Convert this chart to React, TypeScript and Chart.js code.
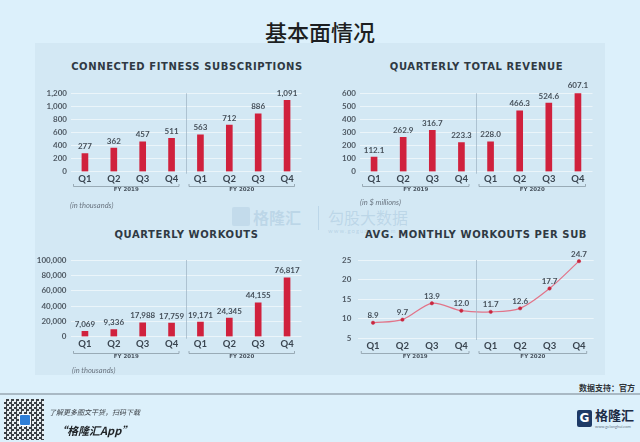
import React, { useEffect, useRef } from "react";
import { Chart, registerables } from "chart.js";

Chart.register(...registerables);

// ---------- data ----------
const quarters = ["Q1", "Q2", "Q3", "Q4", "Q1", "Q2", "Q3", "Q4"];
const fiscalYears = ["FY 2019", "FY 2020"];
const subscriptions = [277, 362, 457, 511, 563, 712, 886, 1091];
const revenue = [112.1, 262.9, 316.7, 223.3, 228.0, 466.3, 524.6, 607.1];
const workouts = [7069, 9336, 17988, 17759, 19171, 24345, 44155, 76817];
const avgWorkouts = [8.9, 9.7, 13.9, 12.0, 11.7, 12.6, 17.7, 24.7];

const subscriptionsAxis = { min: 0, max: 1200, step: 200 };
const revenueAxis = { min: 0, max: 600, step: 100 };
const workoutsAxis = { min: 0, max: 100000, step: 20000 };
const avgAxis = { min: 5, max: 25, step: 5 };

const fmtInt = (v: number) => v.toLocaleString("en-US");
const fmtOne = (v: number) => v.toFixed(1);

// ---------- styles ----------
const BAR_RED = "#d0213d";
const LINE_PINK = "#e27489";
const POINT_RED = "#c9273f";
const TEXT_DARK = "#2f3943";
const TICK_GREY = "#4f5963";
const GRID = "rgba(255,255,255,0.55)";
const SEP = "rgba(160,182,198,0.75)";

const decorPlugin = {
  id: "decor",
  afterDatasetsDraw(chart: any, _args: any, opts: any) {
    const { ctx, chartArea, scales } = chart;
    const x = scales.x;
    ctx.save();
    // separator between fiscal years
    const sx = Math.round((x.getPixelForValue(3) + x.getPixelForValue(4)) / 2) + 0.5;
    ctx.strokeStyle = SEP;
    ctx.lineWidth = 1;
    ctx.beginPath();
    ctx.moveTo(sx, chartArea.top);
    ctx.lineTo(sx, chartArea.bottom + 2);
    ctx.stroke();

    // value labels
    const meta = chart.getDatasetMeta(0);
    const vals = chart.data.datasets[0].data;
    ctx.font = "bold 8px Lato";
    ctx.fillStyle = "#46505a";
    ctx.textAlign = "center";
    ctx.textBaseline = "bottom";
    meta.data.forEach((el: any, i: number) => {
      ctx.fillText(opts.format(vals[i]), el.x, el.y - opts.gap);
    });

    // fiscal year brackets
    const half = (x.getPixelForValue(1) - x.getPixelForValue(0)) / 2;
    ctx.strokeStyle = "#8a9aa6";
    ctx.lineWidth = 0.8;
    ctx.font = "bold 5.5px 'DejaVu Sans'";
    ctx.fillStyle = "#4a5560";
    ctx.textBaseline = "middle";
    fiscalYears.forEach((fy, g) => {
      const x1 = x.getPixelForValue(g * 4) - half + 3;
      const x2 = x.getPixelForValue(g * 4 + 3) + half - 7;
      const y = Math.round(chartArea.bottom + opts.bracket) + 0.5;
      ctx.beginPath();
      ctx.moveTo(x1, y - 2.5);
      ctx.lineTo(x1, y);
      ctx.lineTo(x2, y);
      ctx.lineTo(x2, y - 2.5);
      ctx.stroke();
      ctx.fillText(fy, (x1 + x2) / 2, y + 3.5);
    });
    ctx.restore();
  },
};

type Geom = {
  L: number; T: number; W: number; H: number;
  pl: number; pr: number; pt: number; pb: number;
  xh: number; bracket: number; tickPad: number;
};

function makeConfig(kind: "bar" | "line", values: number[], axis: any, g: Geom, format: (v: number) => string, gap: number): any {
  const dataset: any =
    kind === "bar"
      ? { data: values, backgroundColor: BAR_RED, barThickness: 6 }
      : {
          data: values,
          borderColor: LINE_PINK,
          borderWidth: 1.2,
          pointBackgroundColor: POINT_RED,
          pointBorderColor: POINT_RED,
          pointRadius: 1.7,
          pointBorderWidth: 0.5,
          tension: 0.3,
          clip: false,
        };
  return {
    type: kind,
    data: { labels: quarters, datasets: [dataset] },
    plugins: [decorPlugin],
    options: {
      responsive: false,
      maintainAspectRatio: false,
      animation: false,
      events: [],
      layout: {
        padding: {
          left: 0,
          top: g.pt - g.T,
          right: g.L + g.W - g.pr,
          bottom: g.H - (g.pb - g.T) - g.xh,
        },
      },
      plugins: {
        legend: { display: false },
        tooltip: { enabled: false },
        title: { display: false },
        decor: { format, gap, bracket: g.bracket },
      },
      scales: {
        x: {
          offset: true,
          grid: { display: false, drawTicks: false },
          border: { display: false },
          ticks: {
            color: "#3a4550",
            font: { family: "Lato", size: 9.5, weight: "bold" },
            padding: 2,
            maxRotation: 0,
            autoSkip: false,
          },
          afterFit: (s: any) => {
            s.height = g.xh;
          },
        },
        y: {
          min: axis.min,
          max: axis.max,
          grid: { color: GRID, lineWidth: 1, drawTicks: false },
          border: { display: false },
          ticks: {
            stepSize: axis.step,
            color: TICK_GREY,
            font: { family: "Lato", size: 8, weight: "bold" },
            padding: g.tickPad,
          },
          afterFit: (s: any) => {
            s.width = g.pl - g.L;
          },
        },
      },
    },
  };
}

function ChartBox({ g, config }: { g: Geom; config: any }) {
  const ref = useRef<HTMLCanvasElement | null>(null);
  useEffect(() => {
    if (!ref.current) return;
    const c = new Chart(ref.current, config);
    return () => c.destroy();
  }, []);
  return (
    <canvas
      ref={ref}
      width={g.W}
      height={g.H}
      style={{ position: "absolute", left: g.L, top: g.T, width: g.W, height: g.H }}
    />
  );
}

const gSubs: Geom = { L: 30, T: 78, W: 285, H: 140, pl: 70.5, pr: 301.5, pt: 93.3, pb: 171.7, xh: 22, bracket: 14.5, tickPad: 3.5 };
const gRev: Geom = { L: 315, T: 78, W: 290, H: 140, pl: 359.5, pr: 592.5, pt: 93.3, pb: 171.7, xh: 22, bracket: 14.5, tickPad: 3.5 };
const gWork: Geom = { L: 15, T: 246, W: 300, H: 125, pl: 70.5, pr: 301.5, pt: 260, pb: 336.7, xh: 24, bracket: 16.3, tickPad: 4 };
const gAvg: Geom = { L: 315, T: 246, W: 290, H: 125, pl: 358.3, pr: 593.7, pt: 260, pb: 338, xh: 24, bracket: 15, tickPad: 7 };

const cfgSubs = makeConfig("bar", subscriptions, subscriptionsAxis, gSubs, fmtInt, 3);
const cfgRev = makeConfig("bar", revenue, revenueAxis, gRev, fmtOne, 3);
const cfgWork = makeConfig("bar", workouts, workoutsAxis, gWork, fmtInt, 3);
const cfgAvg = makeConfig("line", avgWorkouts, avgAxis, gAvg, fmtOne, 3);

const abs = (s: any): any => ({ position: "absolute", whiteSpace: "nowrap", ...s });

function ChartTitle({ text, cx, cy }: { text: string; cx: number; cy: number }) {
  return (
    <div
      style={abs({
        left: cx - 150,
        top: cy - 7,
        width: 300,
        height: 14,
        lineHeight: "14px",
        textAlign: "center",
        fontFamily: "'DejaVu Sans'",
        fontWeight: "bold",
        fontSize: 10,
        letterSpacing: "0.6px",
        color: TEXT_DARK,
      })}
    >
      {text}
    </div>
  );
}

function Note({ text, x, cy }: { text: string; x: number; cy: number }) {
  return (
    <div
      style={abs({
        left: x,
        top: cy - 5,
        height: 10,
        lineHeight: "10px",
        fontFamily: "Lato",
        fontStyle: "italic",
        fontSize: 7.5,
        color: "#6a7580",
      })}
    >
      {text}
    </div>
  );
}

export default function App() {
  return (
    <div
      style={{
        position: "fixed",
        left: 0,
        top: 0,
        width: 640,
        height: 442,
        overflow: "hidden",
        background: "#dcf0fb",
      }}
    >
      {/* page title */}
      <div
        style={abs({
          left: 0,
          width: 640,
          top: 17,
          height: 28,
          lineHeight: "28px",
          textAlign: "center",
          fontFamily: "'Noto Sans CJK SC'",
          fontWeight: 500,
          fontSize: 22,
          color: "#1d1f22",
        })}
      >
        基本面情况
      </div>

      {/* panel */}
      <div style={abs({ left: 35, top: 43, width: 570, height: 332, background: "#d3e8f4" })} />

      {/* watermark */}
      <div style={abs({ left: 232, top: 207, width: 18, height: 19, background: "rgba(120,160,195,0.18)", borderRadius: 2 })} />
      <div style={abs({ left: 253, top: 207, fontFamily: "'Noto Sans CJK SC'", fontSize: 16, lineHeight: "20px", fontWeight: 700, color: "rgba(120,160,195,0.25)" })}>格隆汇</div>
      <div style={abs({ left: 318, top: 206, width: 1, height: 24, background: "rgba(120,160,195,0.25)" })} />
      <div style={abs({ left: 328, top: 207, fontFamily: "'Noto Sans CJK SC'", fontSize: 16, lineHeight: "20px", color: "rgba(120,160,195,0.25)" })}>勾股大数据</div>
      <div style={abs({ left: 328, top: 227, fontFamily: "Lato", fontSize: 6, lineHeight: "8px", letterSpacing: "1px", color: "rgba(120,160,195,0.3)" })}>www.gogudata.com</div>

      <ChartTitle text="CONNECTED FITNESS SUBSCRIPTIONS" cx={187} cy={67} />
      <ChartTitle text="QUARTERLY TOTAL REVENUE" cx={476.5} cy={67} />
      <ChartTitle text="QUARTERLY WORKOUTS" cx={186.5} cy={235} />
      <ChartTitle text="AVG. MONTHLY WORKOUTS PER SUB" cx={476} cy={235} />

      <ChartBox g={gSubs} config={cfgSubs} />
      <ChartBox g={gRev} config={cfgRev} />
      <ChartBox g={gWork} config={cfgWork} />
      <ChartBox g={gAvg} config={cfgAvg} />

      <Note text="(in thousands)" x={70} cy={206} />
      <Note text="(in $ millions)" x={360} cy={203} />
      <Note text="(in thousands)" x={72} cy={371} />

      {/* footer */}
      <div style={abs({ right: 5, top: 382, fontFamily: "'Noto Sans CJK SC'", fontWeight: 700, fontSize: 8, lineHeight: "12px", color: "#2e3338" })}>
        数据支持：官方
      </div>
      <div style={abs({ left: 0, top: 393, width: 640, height: 2, background: "#a9b9c4" })} />

      <div
        style={abs({
          left: 4,
          top: 399,
          width: 40,
          height: 41,
          background: "repeating-conic-gradient(#3a3f44 0 25%, #e8eef2 0 50%) 0 0/5px 5px",
        })}
      />
      <div style={abs({ left: 19, top: 414, width: 10, height: 10, background: "#2f7fd8", borderRadius: 2, border: "1px solid #fff" })} />
      <div style={abs({ left: 49, top: 407, fontFamily: "'Noto Sans CJK SC'", fontStyle: "italic", fontSize: 7, lineHeight: "10px", color: "#3a3f45" })}>
        了解更多图文干货，扫码下载
      </div>
      <div style={abs({ left: 56, top: 423, fontFamily: "'Noto Sans CJK SC'", fontStyle: "italic", fontWeight: 700, fontSize: 11, lineHeight: "14px", color: "#1f2327" })}>
        “格隆汇App”
      </div>

      <div style={abs({ left: 577, top: 410, width: 15, height: 17, background: "#1e3a66", borderRadius: 2, color: "#fff", fontFamily: "'DejaVu Sans'", fontWeight: 700, fontSize: 12, lineHeight: "17px", textAlign: "center" })}>
        G
      </div>
      <div style={abs({ left: 595, top: 406, fontFamily: "'Noto Sans CJK SC'", fontWeight: 700, fontSize: 13, lineHeight: "18px", color: "#1c2b45" })}>
        格隆汇
      </div>
      <div style={abs({ left: 595, top: 424, fontFamily: "Lato", fontSize: 4, lineHeight: "5px", color: "#6c7a8a" })}>
        www.gelonghui.com
      </div>
    </div>
  );
}
